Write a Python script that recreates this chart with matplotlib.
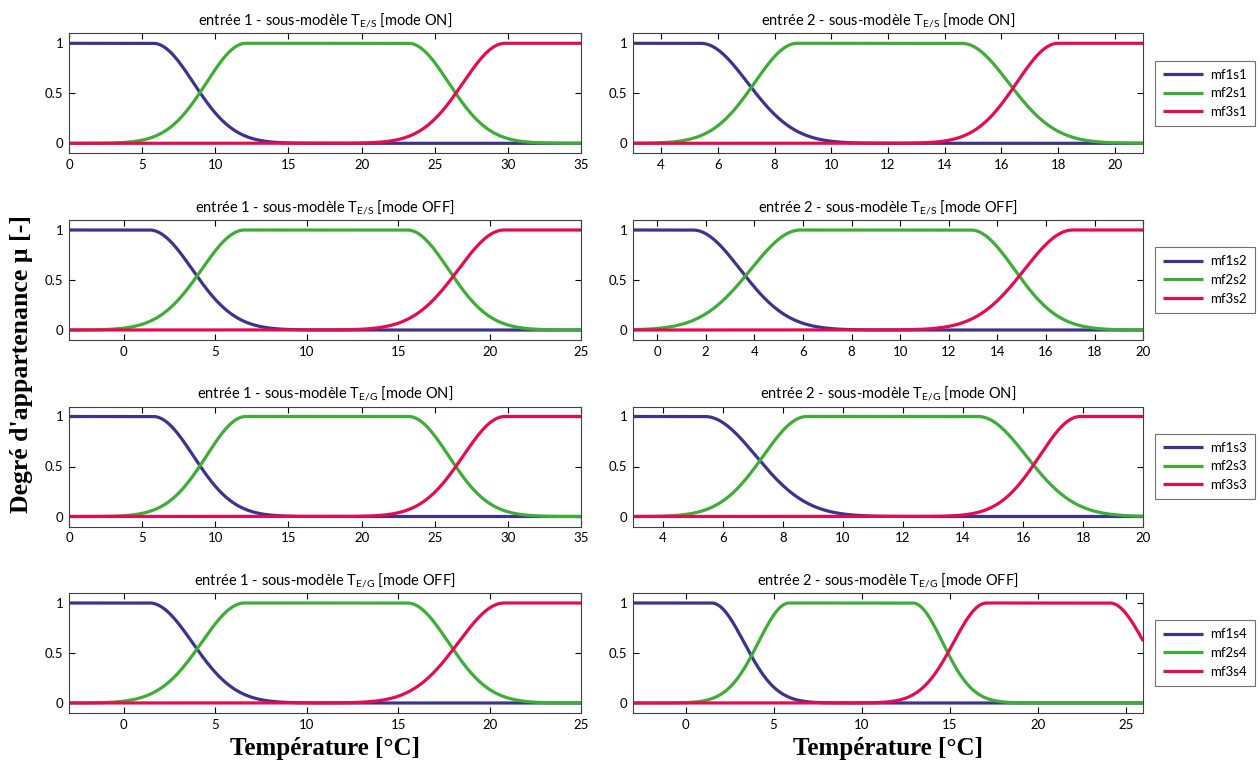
import numpy as np
import matplotlib
matplotlib.use("Agg")
import matplotlib.pyplot as plt

plt.rcParams['font.family'] = ['Lato', 'DejaVu Sans']
plt.rcParams['mathtext.fontset'] = 'custom'
plt.rcParams['mathtext.rm'] = 'Lato'
plt.rcParams['mathtext.it'] = 'Lato:italic'

# membership function parameters (gauss2mf style):
# (sigma_left, c_left, sigma_right, c_right); None = open side (stays at 1)
e1_on_es = [(None, None, 2.75, 5.75), (2.7, 12.1, 2.75, 23.2), (2.85, 29.8, None, None)]
e2_on_es = [(None, None, 1.65, 5.4), (1.5, 8.8, 1.65, 14.6), (1.46, 18.0, None, None)]
e1_off_es = [(None, None, 2.34, 1.4), (2.34, 6.6, 2.25, 15.5), (2.5, 20.8, None, None)]
e2_off_es = [(None, None, 1.95, 1.47), (2.04, 5.9, 1.8, 12.9), (1.98, 17.1, None, None)]
e1_on_eg = [(None, None, 2.75, 5.75), (2.7, 12.1, 2.75, 23.2), (2.85, 29.8, None, None)]
e2_on_eg = [(None, None, 1.7, 5.4), (1.45, 8.8, 1.6, 14.5), (1.35, 17.9, None, None)]
e1_off_eg = [(None, None, 2.34, 1.4), (2.34, 6.6, 2.25, 15.5), (2.5, 20.8, None, None)]
e2_off_eg = [(None, None, 1.84, 1.48), (1.76, 5.9, 1.7, 12.9), (1.87, 17.1, 1.94, 24.1)]

panels = [
    (e1_on_es, (0, 35), np.arange(0, 36, 5), 1, 'E/S', 'ON'),
    (e2_on_es, (3, 21), np.arange(4, 21, 2), 2, 'E/S', 'ON'),
    (e1_off_es, (-3, 25), np.arange(0, 26, 5), 1, 'E/S', 'OFF'),
    (e2_off_es, (-1, 20), np.arange(0, 21, 2), 2, 'E/S', 'OFF'),
    (e1_on_eg, (0, 35), np.arange(0, 36, 5), 1, 'E/G', 'ON'),
    (e2_on_eg, (3, 20), np.arange(4, 21, 2), 2, 'E/G', 'ON'),
    (e1_off_eg, (-3, 25), np.arange(0, 26, 5), 1, 'E/G', 'OFF'),
    (e2_off_eg, (-3, 26), np.arange(0, 26, 5), 2, 'E/G', 'OFF'),
]

colors = ['#3d338f', '#3ead36', '#e60b50']


def gauss2mf(x, s1, c1, s2, c2):
    y = np.ones_like(x)
    if c1 is not None:
        m = x < c1
        y[m] = np.exp(-(x[m] - c1) ** 2 / (2 * s1 ** 2))
    if c2 is not None:
        m = x > c2
        y[m] *= np.exp(-(x[m] - c2) ** 2 / (2 * s2 ** 2))
    return y


W, H = 1260, 767
fig = plt.figure(figsize=(W / 100, H / 100), dpi=100)

col_left = [69, 632.7]
col_width = [512, 510.6]
row_top = [33.3, 220, 406.5, 593]
ax_h = 120

for i, (mfs, xlim, xticks, entree, sub, mode) in enumerate(panels):
    row, col = i // 2, i % 2
    ax = fig.add_axes([col_left[col] / W, 1 - (row_top[row] + ax_h) / H,
                       col_width[col] / W, ax_h / H])
    x = np.linspace(xlim[0], xlim[1], 800)
    for k, p in enumerate(mfs):
        ax.plot(x, gauss2mf(x, *p), color=colors[k], lw=2.3,
                label=f'mf{k + 1}s{row + 1}', solid_capstyle='butt')
    ax.set_xlim(*xlim)
    ax.set_ylim(-0.1, 1.1)
    ax.set_xticks(xticks)
    ax.set_yticks([0, 0.5, 1])
    ax.set_yticklabels(['0', '0.5', '1'])
    ax.tick_params(direction='in', top=True, right=True, length=4, width=0.8,
                   labelsize=9.5, pad=4)
    for s in ax.spines.values():
        s.set_linewidth(0.8)
        s.set_color('0.25')
    ax.set_title(f'entrée {entree} - sous-modèle $\\mathrm{{T}}_{{\\mathrm{{{sub}}}}}$ [mode {mode}]',
                 fontsize=10.5, pad=6)
    if col == 1:
        leg = ax.legend(loc='center left', bbox_to_anchor=(1 + 11.7 / 510.6, 0.5),
                        borderaxespad=0, fancybox=False, edgecolor='0.3',
                        fontsize=9.5, handlelength=3.0, handletextpad=0.6,
                        labelspacing=0.5, borderpad=0.6)
        leg.get_frame().set_linewidth(0.8)

fig.text(22 / W, 1 - 364 / H, "Degré d'appartenance µ [-]", rotation=90,
         ha='center', va='center', fontsize=18.5, fontweight='bold',
         family=['Liberation Serif', 'DejaVu Serif'])
for cx in [325, 888]:
    fig.text(cx / W, 1 - 749 / H, 'Température [°C]', ha='center', va='center',
             fontsize=18, fontweight='bold', family=['Liberation Serif', 'DejaVu Serif'])

fig.savefig('out.png', dpi=100)
